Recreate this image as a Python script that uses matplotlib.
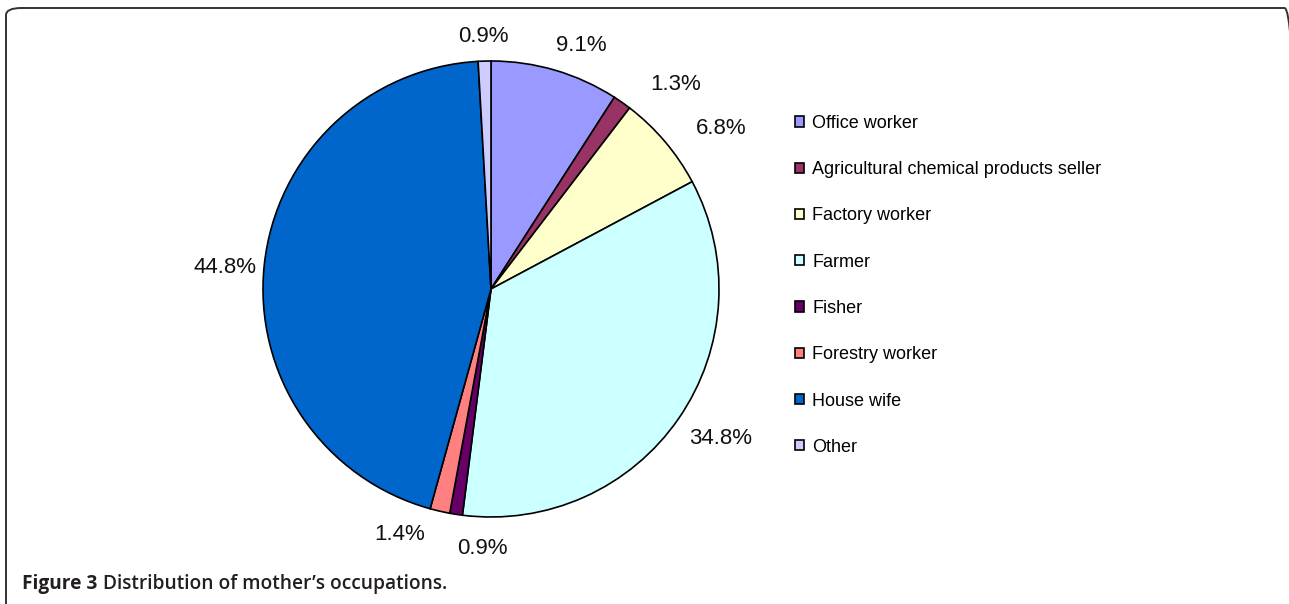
import numpy as np
import matplotlib
matplotlib.use("Agg")
import matplotlib.pyplot as plt
from matplotlib.patches import FancyBboxPatch

labels = ["Office worker", "Agricultural chemical products seller", "Factory worker",
          "Farmer", "Fisher", "Forestry worker", "House wife", "Other"]
values = [9.1, 1.3, 6.8, 34.8, 0.9, 1.4, 44.8, 0.9]
colors = ["#9999FF", "#993366", "#FFFFCC", "#CCFFFF", "#660066", "#FF8080", "#0066CC", "#CCCCFF"]
pct_text = ["9.1%", "1.3%", "6.8%", "34.8%", "0.9%", "1.4%", "44.8%", "0.9%"]

# label placement (radius as fraction of pie radius, angle nudge in degrees)
label_r = [1.14, 1.21, 1.23, 1.20, 1.14, 1.15, 1.17, 1.11]
label_nudge = [-4, -7, -5.5, 1.5, 7, -7.5, 1.5, 0]

W, H = 1289, 604
fig = plt.figure(figsize=(W / 100, H / 100), dpi=100)
plt.rcParams['font.family'] = ['Liberation Sans', 'DejaVu Sans']

# pie centre / radius in pixels
cx, cy, R = 491, 289, 228
ax = fig.add_axes([(cx - R) / W, (H - cy - R) / H, 2 * R / W, 2 * R / H])
wedges, _ = ax.pie(values, colors=colors, startangle=90, counterclock=False,
                   wedgeprops=dict(edgecolor="black", linewidth=1.2))
ax.set_xlim(-1, 1)
ax.set_ylim(-1, 1)
ax.set_aspect("auto")
ax.axis("off")

# percent labels outside the slices
for w, t, r, dn in zip(wedges, pct_text, label_r, label_nudge):
    ang = np.deg2rad((w.theta1 + w.theta2) / 2 + dn)
    ax.text(r * np.cos(ang), r * np.sin(ang), t, ha="center", va="center",
            fontsize=16, color="#111111", clip_on=False)

leg = fig.legend(wedges, labels, loc="upper left",
                 bbox_to_anchor=(795 / W, 1 - 115 / H),
                 frameon=False, fontsize=13, handlelength=0.5, handleheight=0.5,
                 handletextpad=0.45, labelspacing=1.62, borderpad=0,
                 borderaxespad=0)
for p in leg.get_patches():
    p.set_linewidth(1.2)
    p.set_edgecolor("black")

# rounded frame, runs off the right and bottom edges like the scan
frame = FancyBboxPatch((6 / W, -12 / H), (1300 - 6) / W, (596 + 12) / H,
                       boxstyle="round,pad=0,rounding_size=0.012",
                       transform=fig.transFigure, fill=False,
                       edgecolor="#333333", linewidth=1.4)
fig.patches.append(frame)

# caption
cap_font = ['Open Sans', 'DejaVu Sans']
t1 = fig.text(22 / W, 1 - 584 / H, "Figure 3", fontsize=13.8, fontweight="bold",
              family=cap_font, color="#231f20", va="center")
fig.canvas.draw()
bb = t1.get_window_extent()
fig.text((bb.x1 + 6) / W, 1 - 584 / H, "Distribution of mother\u2019s occupations.",
         fontsize=13.8, fontweight="semibold", family=cap_font, color="#231f20",
         va="center")

fig.savefig("out.png", dpi=100)
